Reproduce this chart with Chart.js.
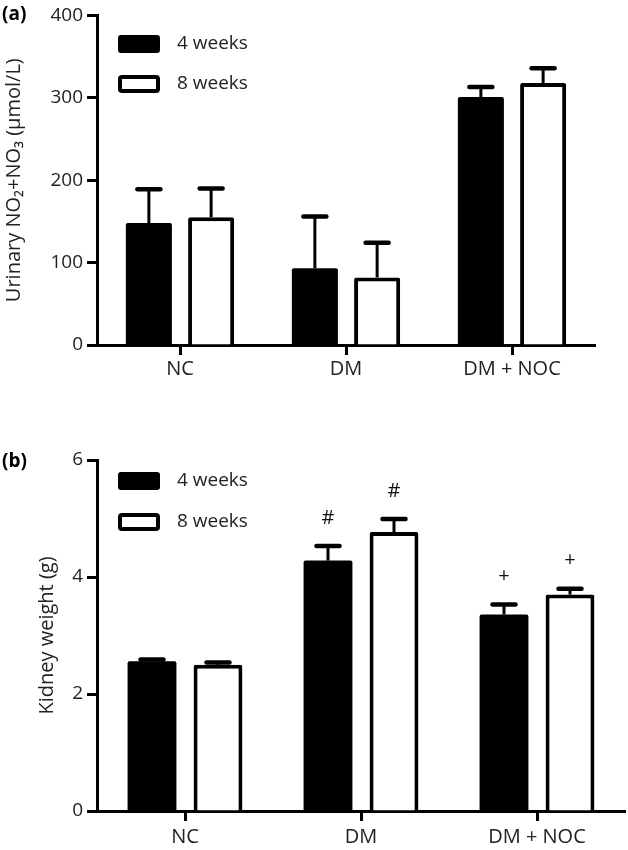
<!DOCTYPE html>
<html>
<head>
<meta charset="utf-8">
<script src="https://cdn.jsdelivr.net/npm/chart.js@4.4.1/dist/chart.umd.min.js"></script>
<style>
  html, body { margin: 0; padding: 0; background: #fff; }
  #wrapA { position: absolute; left: 0; top: 0; width: 628px; height: 400px; }
  #wrapB { position: absolute; left: 0; top: 420px; width: 628px; height: 430px; }
</style>
</head>
<body>
<div id="wrapA"><canvas id="chartA"></canvas></div>
<div id="wrapB"><canvas id="chartB"></canvas></div>
<script>
// ---------- data ----------
const categories = ['NC', 'DM', 'DM + NOC'];
const seriesNames = ['4 weeks', '8 weeks'];

// Panel (a): urinary NO2+NO3 (µmol/L)
const urinary4w = [148, 93, 301];
const urinary4wErr = [41, 63, 12];
const urinary8w = [155, 82, 318];
const urinary8wErr = [35, 42, 18];
const urinaryTicks = [0, 100, 200, 300, 400];

// Panel (b): kidney weight (g)
const kidney4w = [2.56, 4.28, 3.36];
const kidney4wErr = [0.03, 0.25, 0.17];
const kidney8w = [2.50, 4.77, 3.70];
const kidney8wErr = [0.04, 0.22, 0.10];
const kidneyTicks = [0, 2, 4, 6];
const kidney4wMarks = ['', '#', '+'];
const kidney8wMarks = ['', '#', '+'];

// ---------- helpers ----------
const FONT = '"Open Sans", "Noto Sans", sans-serif';

const errorBarPlugin = {
  id: 'errorBars',
  afterDatasetsDraw(chart, args, opts) {
    const ctx = chart.ctx;
    const yScale = chart.scales.y;
    chart.data.datasets.forEach((ds, i) => {
      const meta = chart.getDatasetMeta(i);
      meta.data.forEach((bar, j) => {
        const v = ds.data[j];
        const e = ds.errors[j];
        const yTop = yScale.getPixelForValue(v + e);
        const yBar = yScale.getPixelForValue(v);
        ctx.save();
        ctx.strokeStyle = '#000';
        ctx.lineWidth = 3;
        ctx.beginPath();
        ctx.moveTo(bar.x, yBar);
        ctx.lineTo(bar.x, yTop);
        ctx.stroke();
        ctx.lineWidth = 4.5;
        ctx.lineCap = 'round';
        ctx.beginPath();
        ctx.moveTo(bar.x - opts.cap / 2, yTop);
        ctx.lineTo(bar.x + opts.cap / 2, yTop);
        ctx.stroke();
        ctx.restore();
        const mark = ds.marks ? ds.marks[j] : '';
        if (mark) {
          ctx.save();
          ctx.fillStyle = '#111';
          ctx.font = '20px ' + FONT;
          ctx.textAlign = 'center';
          ctx.textBaseline = 'middle';
          ctx.fillText(mark, bar.x, yTop - opts.markOffset);
          ctx.restore();
        }
      });
    });
  }
};

const customLegendPlugin = {
  id: 'customLegend',
  afterDraw(chart, args, opts) {
    const ctx = chart.ctx;
    chart.data.datasets.forEach((ds, i) => {
      const y = opts.y + i * opts.gap;
      ctx.save();
      ctx.beginPath();
      ctx.roundRect(opts.x, y, 42, 18, 3);
      ctx.fillStyle = ds.backgroundColor;
      ctx.fill();
      if (ds.borderWidth) {
        ctx.beginPath();
        ctx.roundRect(opts.x + 2, y + 2, 38, 14, 2);
        ctx.lineWidth = 4;
        ctx.strokeStyle = '#000';
        ctx.stroke();
      }
      ctx.fillStyle = '#222';
      ctx.font = '19px ' + FONT;
      ctx.textAlign = 'left';
      ctx.textBaseline = 'middle';
      ctx.fillText(ds.label, opts.x + 59, y + 9);
      ctx.restore();
    });
  }
};

const panelLabelPlugin = {
  id: 'panelLabel',
  afterDraw(chart, args, opts) {
    const ctx = chart.ctx;
    ctx.save();
    ctx.fillStyle = '#000';
    ctx.font = 'bold 19px ' + FONT;
    ctx.textAlign = 'left';
    ctx.textBaseline = 'middle';
    ctx.fillText(opts.text, opts.x, opts.y);
    ctx.restore();
  }
};

function makeChart(id, cfg) {
  return new Chart(document.getElementById(id), {
    type: 'bar',
    data: {
      labels: categories,
      datasets: [
        { label: seriesNames[0], data: cfg.d1, errors: cfg.e1, marks: cfg.m1,
          backgroundColor: '#000', borderColor: '#000', borderWidth: 0,
          borderRadius: 2, borderSkipped: 'bottom' },
        { label: seriesNames[1], data: cfg.d2, errors: cfg.e2, marks: cfg.m2,
          backgroundColor: '#fff', borderColor: '#000', borderWidth: 4,
          borderRadius: 2, borderSkipped: 'bottom' }
      ]
    },
    options: {
      responsive: true,
      maintainAspectRatio: false,
      animation: false,
      categoryPercentage: 0.75,
      barPercentage: 0.74,
      layout: { padding: cfg.padding },
      plugins: {
        legend: { display: false },
        tooltip: { enabled: false },
        errorBars: { cap: 23, markOffset: 28 },
        customLegend: cfg.legend,
        panelLabel: cfg.panel
      },
      scales: {
        x: {
          grid: { display: true, offset: false, drawOnChartArea: false, drawTicks: true,
                  tickLength: 10, tickWidth: 3, tickColor: '#000' },
          border: { display: true, width: 3, color: '#000' },
          ticks: { color: '#222', font: { family: FONT, size: 20 }, padding: cfg.xPad, maxRotation: 0 },
          afterFit(scale) { scale.height = cfg.xHeight; }
        },
        y: {
          min: cfg.ticks[0],
          max: cfg.ticks[cfg.ticks.length - 1],
          afterBuildTicks(scale) { scale.ticks = cfg.ticks.map(v => ({ value: v })); },
          grid: { display: true, drawOnChartArea: false, drawTicks: true,
                  tickLength: 10, tickWidth: 3, tickColor: '#000' },
          border: { display: true, width: 3, color: '#000' },
          ticks: { color: '#222', font: { family: FONT, size: 19 }, padding: 4 },
          title: { display: true, text: cfg.title, color: '#222',
                   font: { family: FONT, size: 20 }, padding: { top: cfg.titlePad, bottom: 0 } },
          afterFit(scale) { scale.width = 97; }
        }
      }
    },
    plugins: [errorBarPlugin, customLegendPlugin, panelLabelPlugin]
  });
}

makeChart('chartA', {
  d1: urinary4w, e1: urinary4wErr, m1: null,
  d2: urinary8w, e2: urinary8wErr, m2: null,
  ticks: urinaryTicks,
  title: 'Urinary NO\u2082+NO\u2083 (\u03bcmol/L)',
  titlePad: 2,
  padding: { top: 15, right: 33, left: 0, bottom: 0 },
  xHeight: 55,
  xPad: 2,
  legend: { x: 118, y: 35, gap: 40 },
  panel: { text: '(a)', x: 2, y: 15 }
});

makeChart('chartB', {
  d1: kidney4w, e1: kidney4wErr, m1: kidney4wMarks,
  d2: kidney8w, e2: kidney8wErr, m2: kidney8wMarks,
  ticks: kidneyTicks,
  title: 'Kidney weight (g)',
  titlePad: 35,
  padding: { top: 40, right: 3, left: 0, bottom: 0 },
  xHeight: 39,
  xPad: 4,
  legend: { x: 118, y: 52, gap: 41 },
  panel: { text: '(b)', x: 2, y: 42 }
});
</script>
</body>
</html>
